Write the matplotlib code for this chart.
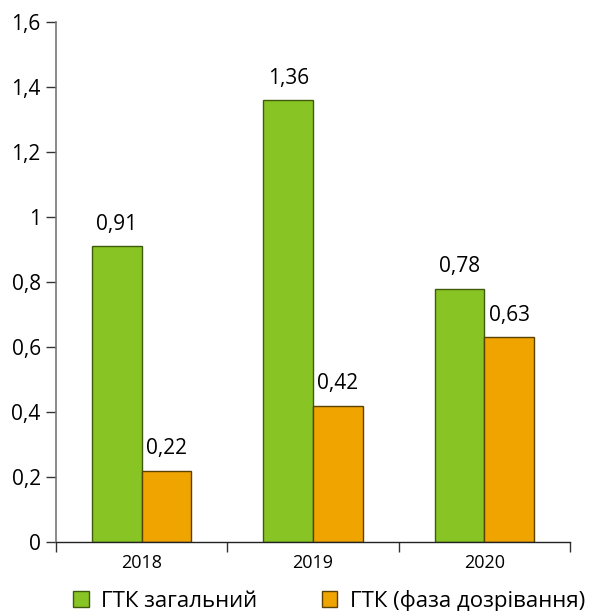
import matplotlib
matplotlib.use("Agg")
import matplotlib.pyplot as plt
import numpy as np
from matplotlib.ticker import FixedLocator, NullFormatter

years = ["2018", "2019", "2020"]
gtk_total = [0.91, 1.36, 0.78]
gtk_ripening = [0.22, 0.42, 0.63]
series_names = ["ГТК загальний", "ГТК (фаза дозрівання)"]
y_ticks = [0, 0.2, 0.4, 0.6, 0.8, 1.0, 1.2, 1.4, 1.6]

green = "#88C524"
orange = "#F0A400"

plt.rcParams["font.family"] = ["Open Sans", "DejaVu Sans"]

fig = plt.figure(figsize=(5.91, 6.11), dpi=100)
ax = fig.add_axes([56 / 591, 1 - 542 / 611, (570 - 56) / 591, (542 - 22) / 611])

x = np.arange(len(years))
w = 0.29
b1 = ax.bar(x - w / 2, gtk_total, w, color=green, edgecolor="#3F5A0A", linewidth=1.0, label=series_names[0])
b2 = ax.bar(x + w / 2, gtk_ripening, w, color=orange, edgecolor="#5A4200", linewidth=1.0, label=series_names[1])

def fmt(v):
    return f"{v:.2f}".replace(".", ",")

for bars, vals in ((b1, gtk_total), (b2, gtk_ripening)):
    for rect, v in zip(bars, vals):
        ax.annotate(fmt(v), (rect.get_x() + rect.get_width() / 2, v),
                    xytext=(0, 8), textcoords="offset points",
                    ha="center", va="bottom", fontsize=15)

ax.set_xlim(-0.5, 2.5)
ax.set_ylim(0, 1.6)
ax.set_yticks(y_ticks)
ax.set_yticklabels([("%g" % t).replace(".", ",") for t in y_ticks], fontsize=15)

ax.set_xticks(x)
ax.set_xticklabels(years, fontsize=13)
ax.tick_params(axis="x", which="major", length=0, pad=9)
ax.xaxis.set_minor_locator(FixedLocator([-0.5, 0.5, 1.5, 2.5]))
ax.xaxis.set_minor_formatter(NullFormatter())
ax.tick_params(axis="x", which="minor", length=7, width=1, color="#333333")
ax.tick_params(axis="y", length=7, width=1, color="#333333", pad=4)

for s in ("top", "right"):
    ax.spines[s].set_visible(False)
ax.spines["left"].set_color("#777777")
ax.spines["left"].set_linewidth(1.2)
ax.spines["bottom"].set_color("#222222")
ax.spines["bottom"].set_linewidth(1.0)

fig.legend(handles=[b1, b2], labels=series_names, loc="lower center",
           bbox_to_anchor=(0.557, -0.03), ncol=2, frameon=False, fontsize=16,
           handlelength=0.7, handleheight=0.7, handletextpad=0.55, columnspacing=2.9,
           borderpad=0.3)

fig.savefig("out.png", dpi=100)
